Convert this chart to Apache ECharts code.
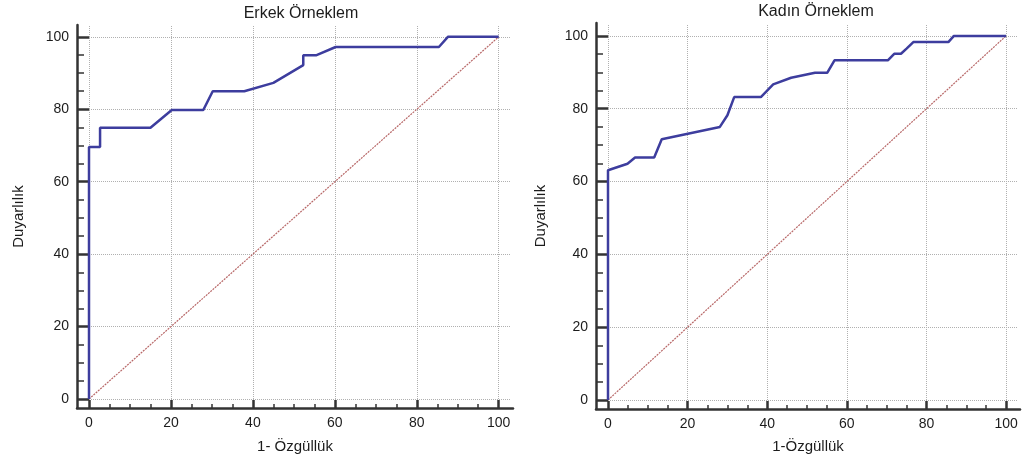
<!DOCTYPE html>
<html>
<head>
<meta charset="utf-8">
<script src="https://cdn.jsdelivr.net/npm/echarts@6/dist/echarts.min.js"></script>
<style>
  html, body { margin: 0; padding: 0; background: #fff; }
  #chart { width: 1024px; height: 462px; }
</style>
</head>
<body>
<div id="chart"></div>
<script>
// ROC curves (1 - specificity, sensitivity)
const erkekX = [0, 0, 2.7, 2.7, 15.0, 20.2, 27.9, 30.2, 37.9, 45.0, 52.3, 52.3, 55.4, 60.2, 85.4, 87.6, 100];
const erkekY = [0, 69.6, 69.6, 74.9, 74.9, 79.8, 79.8, 85.0, 85.0, 87.3, 92.2, 94.9, 94.9, 97.2, 97.2, 100, 100];

const kadinX = [0, 0, 4.9, 6.8, 11.6, 13.5, 28.1, 30.0, 31.7, 38.4, 41.5, 46.0, 52.0, 55.1, 56.9, 70.3, 71.9, 73.6, 75.0, 76.7, 85.5, 86.9, 100];
const kadinY = [0, 63.1, 64.9, 66.6, 66.6, 71.6, 75.0, 78.2, 83.2, 83.2, 86.7, 88.5, 89.9, 89.9, 93.3, 93.3, 95.1, 95.1, 96.5, 98.3, 98.3, 100, 100];

const refX = [0, 100];
const refY = [0, 100];

const majorTicks = [0, 20, 40, 60, 80, 100];
const minorTicks = [5, 10, 15, 25, 30, 35, 45, 50, 55, 65, 70, 75, 85, 90, 95];

const titles = ['Erkek Örneklem', 'Kadın Örneklem'];
const xNames = ['1- Özgüllük', '1-Özgüllük'];
const yName = 'Duyarlılık';

const FONT = '"Liberation Sans", Arial, sans-serif';
const TEXT = '#1c1c1c';
const AXIS = '#333';
const DATA_MAX = 103;

const panels = [
  {
    data: { left: 89, top: 26, width: 422, height: 373 },
    frame: { left: 77, top: 25, width: 436, height: 383 },
    yNameGap: 51, xNameGap: 31,
    titleX: 296, titleY: 1,
    curve: [erkekX, erkekY],
  },
  {
    data: { left: 608, top: 25, width: 410, height: 375 },
    frame: { left: 596, top: 23, width: 424, height: 386 },
    yNameGap: 48, xNameGap: 30,
    titleX: 811, titleY: -1,
    curve: [kadinX, kadinY],
  },
];

const zip = (xs, ys) => xs.map((x, i) => [x, ys[i]]);

const grid = [];
const xAxis = [];
const yAxis = [];
const series = [];
const title = [];

const hidden = {
  axisLine: { show: false, onZero: false },
  axisTick: { show: false },
  axisLabel: { show: false },
  splitLine: { show: false },
};

panels.forEach((p, i) => {
  grid.push(p.data, p.frame);
  const dataGrid = i * 2;
  const frameGrid = i * 2 + 1;

  title.push({
    text: titles[i],
    left: p.titleX,
    top: p.titleY,
    textAlign: 'center',
    textStyle: { fontFamily: FONT, fontSize: 16, fontWeight: 'normal', color: TEXT },
  });

  // data axes: only the dotted grid lines
  const gridLines = {
    type: 'value', min: 0, max: DATA_MAX,
    gridIndex: dataGrid,
    ...hidden,
    axisTick: { show: false, customValues: majorTicks },
    splitLine: { show: true, lineStyle: { color: '#b0b0b0', type: 'dotted', width: 1 } },
  };
  xAxis.push({ ...gridLines, position: 'bottom' });
  yAxis.push({ ...gridLines, position: 'left' });

  // frame axes share the data scale but span the wider frame box
  const xppu = p.data.width / DATA_MAX;
  const yppu = p.data.height / DATA_MAX;
  const xMin = (p.frame.left - p.data.left) / xppu;
  const xMax = xMin + p.frame.width / xppu;
  const yMin = -((p.frame.top + p.frame.height) - (p.data.top + p.data.height)) / yppu;
  const yMax = yMin + p.frame.height / yppu;

  xAxis.push({
    type: 'value', min: xMin, max: xMax,
    gridIndex: frameGrid,
    position: 'bottom',
    name: xNames[i],
    nameLocation: 'middle',
    nameGap: p.xNameGap,
    nameTextStyle: { fontFamily: FONT, fontSize: 15, color: TEXT },
    axisLine: { show: true, onZero: false, lineStyle: { color: AXIS, width: 2.5 } },
    axisTick: { show: true, inside: true, length: 8, customValues: majorTicks, lineStyle: { color: AXIS, width: 2.5 } },
    axisLabel: { customValues: majorTicks, margin: 8, fontFamily: FONT, fontSize: 14, color: TEXT },
    splitLine: { show: false },
  });
  yAxis.push({
    type: 'value', min: yMin, max: yMax,
    gridIndex: frameGrid,
    position: 'left',
    name: yName,
    nameLocation: 'middle',
    nameRotate: 90,
    nameGap: p.yNameGap,
    nameTextStyle: { fontFamily: FONT, fontSize: 15, color: TEXT },
    axisLine: { show: true, onZero: false, lineStyle: { color: AXIS, width: 2.5 } },
    axisTick: { show: true, inside: true, length: 12, customValues: majorTicks, lineStyle: { color: AXIS, width: 2.5 } },
    axisLabel: { customValues: majorTicks, margin: 8, fontFamily: FONT, fontSize: 14, color: TEXT },
    splitLine: { show: false },
  });

  // minor ticks
  xAxis.push({
    type: 'value', min: xMin, max: xMax,
    gridIndex: frameGrid,
    position: 'bottom',
    ...hidden,
    axisTick: { show: true, inside: true, length: 4, customValues: minorTicks, lineStyle: { color: AXIS, width: 1.5 } },
  });
  yAxis.push({
    type: 'value', min: yMin, max: yMax,
    gridIndex: frameGrid,
    position: 'left',
    ...hidden,
    axisTick: { show: true, inside: true, length: 7, customValues: minorTicks, lineStyle: { color: AXIS, width: 1.5 } },
  });

  series.push({
    type: 'line',
    xAxisIndex: i * 3,
    yAxisIndex: i * 3,
    data: zip(refX, refY),
    showSymbol: false,
    silent: true,
    lineStyle: { color: '#b86868', width: 1.2, type: [2, 1] },
    z: 2,
  });
  series.push({
    type: 'line',
    xAxisIndex: i * 3,
    yAxisIndex: i * 3,
    data: zip(p.curve[0], p.curve[1]),
    showSymbol: false,
    silent: true,
    lineStyle: { color: '#3d3d9e', width: 2.5 },
    z: 3,
  });
});

const chart = echarts.init(document.getElementById('chart'), null, { renderer: 'canvas' });
chart.setOption({
  animation: false,
  backgroundColor: '#fff',
  textStyle: { fontFamily: FONT },
  title,
  grid,
  xAxis,
  yAxis,
  series,
});
</script>
</body>
</html>
